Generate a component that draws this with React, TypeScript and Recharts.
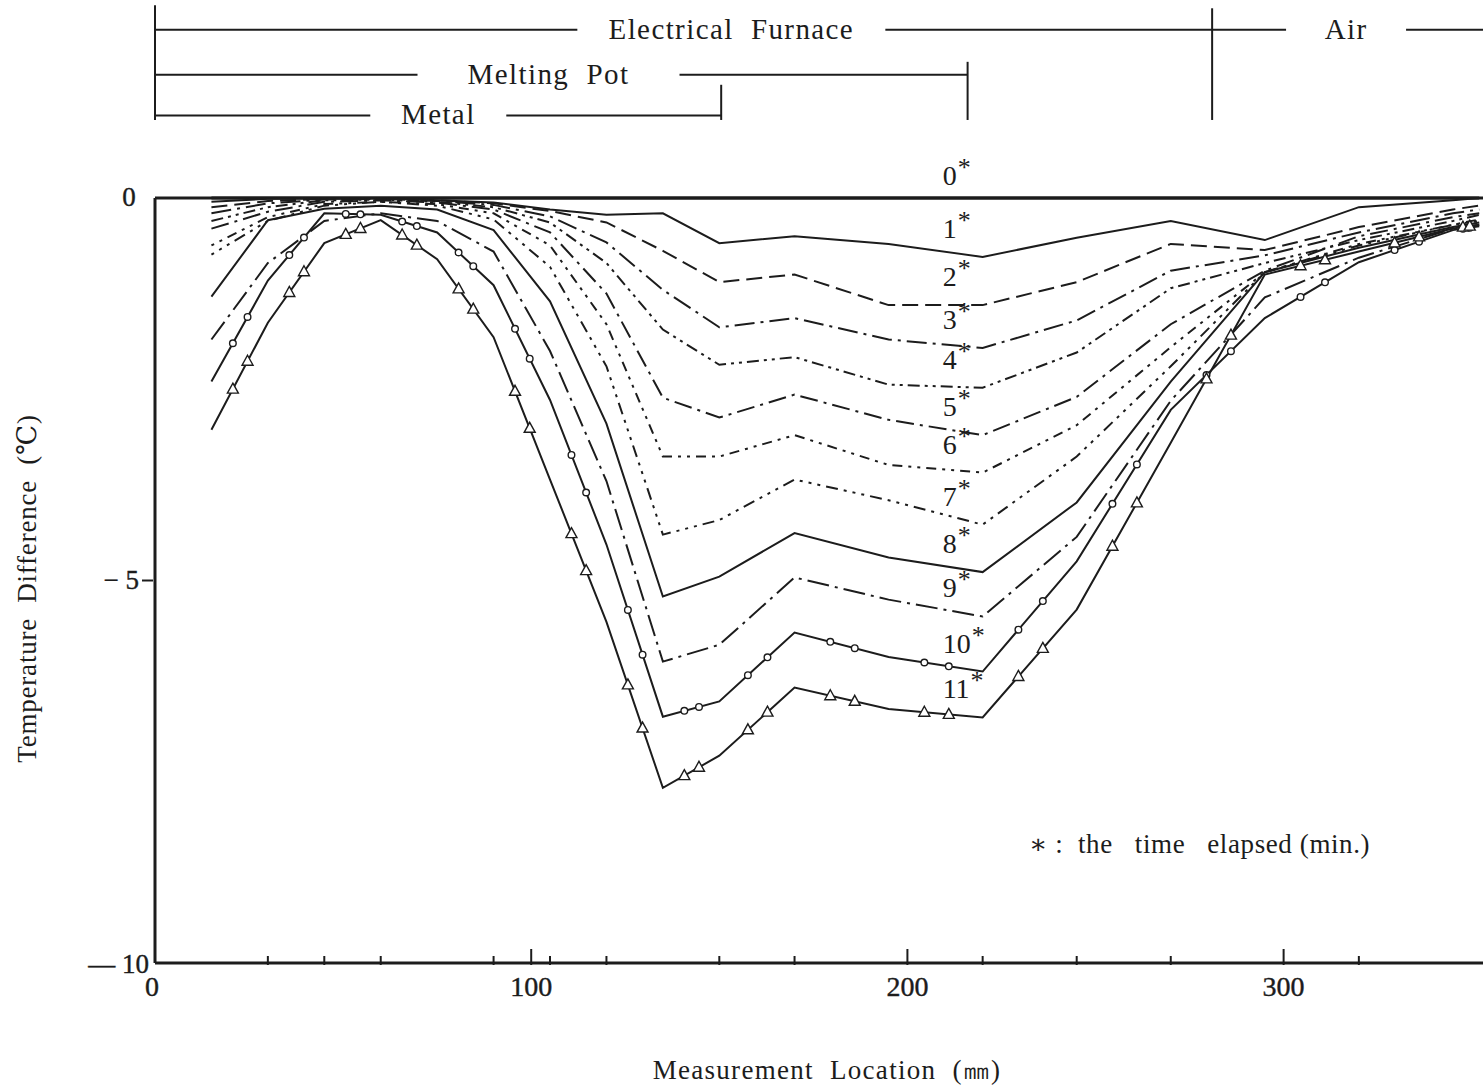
import React from 'react'
import { LineChart, Line, XAxis, YAxis, ReferenceLine, ReferenceDot } from 'recharts'

// measurement locations (mm)
const LOCATIONS = [15, 30, 45, 60, 75, 90, 105, 120, 135, 150, 170, 195, 220, 245, 270, 295, 320, 345, 352]

// temperature difference (deg C) after n minutes
const T0 = [0, 0, 0, 0, 0, 0, 0, 0, 0, 0, 0, 0, 0, 0, 0, 0, 0, 0, 0]
const T1 = [-0.05, -0.01, 0, 0, -0.03, -0.06, -0.15, -0.22, -0.2, -0.59, -0.5, -0.6, -0.77, -0.52, -0.3, -0.55, -0.12, -0.03, 0]
const T2 = [-0.12, -0.04, -0.01, 0, -0.03, -0.07, -0.17, -0.32, -0.69, -1.1, -1.0, -1.4, -1.4, -1.1, -0.6, -0.68, -0.38, -0.15, -0.1]
const T3 = [-0.2, -0.07, -0.02, -0.01, -0.04, -0.09, -0.24, -0.58, -1.2, -1.69, -1.57, -1.85, -1.96, -1.6, -0.95, -0.75, -0.45, -0.2, -0.15]
const T4 = [-0.3, -0.12, -0.03, -0.02, -0.05, -0.12, -0.32, -0.85, -1.72, -2.18, -2.08, -2.44, -2.48, -2.02, -1.18, -0.85, -0.55, -0.3, -0.22]
const T5 = [-0.4, -0.18, -0.05, -0.03, -0.06, -0.15, -0.45, -1.25, -2.61, -2.87, -2.57, -2.9, -3.1, -2.6, -1.65, -0.95, -0.5, -0.25, -0.2]
const T6 = [-0.62, -0.25, -0.08, -0.05, -0.08, -0.2, -0.62, -1.65, -3.38, -3.38, -3.1, -3.49, -3.59, -2.97, -1.95, -0.97, -0.6, -0.35, -0.28]
const T7 = [-0.74, -0.3, -0.1, -0.05, -0.1, -0.28, -0.9, -2.2, -4.4, -4.21, -3.68, -3.95, -4.27, -3.38, -2.2, -0.97, -0.62, -0.35, -0.3]
const T8 = [-1.29, -0.29, -0.14, -0.1, -0.15, -0.42, -1.35, -2.95, -5.21, -4.95, -4.38, -4.7, -4.89, -3.98, -2.4, -0.97, -0.65, -0.38, -0.32]
const T9 = [-1.85, -0.85, -0.3, -0.2, -0.3, -0.7, -2.0, -3.7, -6.06, -5.84, -4.96, -5.25, -5.47, -4.43, -2.65, -1.3, -0.78, -0.4, -0.35]
const T10 = [-2.4, -1.08, -0.2, -0.22, -0.45, -1.14, -2.64, -4.53, -6.78, -6.58, -5.68, -6.0, -6.19, -4.75, -2.77, -1.57, -0.84, -0.42, -0.37]
const T11 = [-3.03, -1.63, -0.59, -0.29, -0.8, -1.82, -3.68, -5.54, -7.71, -7.29, -6.4, -6.68, -6.79, -5.38, -3.2, -1.0, -0.7, -0.4, -0.35]

const SERIES = [T0, T1, T2, T3, T4, T5, T6, T7, T8, T9, T10, T11]
const SERIES_NAMES = ['0', '1', '2', '3', '4', '5', '6', '7', '8', '9', '10', '11']

const X_TICKS = [0, 30, 45, 60, 90, 100, 105, 120, 150, 170, 200, 220, 245, 270, 300, 320]
const X_LABELS = [0, 100, 200, 300]
const Y_TICKS = [0, -5, -10]

// zones of the apparatus (mm)
const METAL_END = 150.5
const POT_END = 216
const FURNACE_END = 281

// ---- styles / layout ----
const FONT = "'Liberation Serif', 'DejaVu Serif', serif"
const INK = '#1c1c1c'
const DASHES = [
  undefined, undefined, '16 7', '20 6 3 6', '12 5 3 5 3 5', '18 6 3 6',
  '3 6 3 6 10 6', '3 6 3 6 3 6 12 6', undefined, '22 6 3 6', undefined, undefined,
]
const MARKERS = ['none', 'none', 'none', 'none', 'none', 'none', 'none', 'none', 'none', 'none', 'circle', 'triangle']
const LABEL_INDEX = LOCATIONS.indexOf(220)
const MARK_AT = [0.38, 0.64]

const rows = LOCATIONS.map((x, i) => {
  const r: Record<string, number> = { x }
  SERIES.forEach((s, k) => { r['t' + k] = s[i] })
  return r
})

const prevPoint: Record<string, { x: number; y: number } | null> = {}

function makeDot(k: number) {
  const key = 't' + k
  const marker = MARKERS[k]
  return (props: any) => {
    const { cx, cy, index } = props
    if (index === 0) prevPoint[key] = null
    const prev = props.points && index > 0 ? props.points[index - 1] : prevPoint[key]
    prevPoint[key] = { x: cx, y: cy }
    const parts: React.ReactNode[] = []
    if (marker !== 'none' && prev) {
      MARK_AT.forEach((f, j) => {
        const mx = prev.x + (cx - prev.x) * f
        const my = prev.y + (cy - prev.y) * f
        if (marker === 'circle') {
          parts.push(<circle key={'m' + j} cx={mx} cy={my} r={3.3} fill="#fff" stroke={INK} strokeWidth={1.4} />)
        } else {
          parts.push(
            <path key={'m' + j} d={`M${mx},${my - 6} L${mx + 5.5},${my + 4} L${mx - 5.5},${my + 4} Z`}
              fill="#fff" stroke={INK} strokeWidth={1.4} />
          )
        }
      })
    }
    if (index === LABEL_INDEX) {
      const ly = k === 0 ? cy - 13 : cy - 19
      parts.push(
        <text key="lab" x={cx - 40} y={ly} textAnchor="start" fontFamily={FONT} fontSize={28} fill={INK}>
          {SERIES_NAMES[k]}
          <tspan fontSize={26} dy={-9} dx={1}>*</tspan>
        </text>
      )
    }
    return <g key={`dot-${key}-${index}`}>{parts}</g>
  }
}

const XTick = (props: any) => {
  const { x, y, payload } = props
  const v = payload.value
  const major = X_LABELS.includes(v)
  return (
    <g>
      {v !== 0 && <line x1={x} x2={x} y1={y} y2={y - (major ? 16 : 9)} stroke={INK} strokeWidth={2} />}
      {major && (
        <text x={v === 0 ? x - 3 : x} y={y + 31} textAnchor="middle" fontFamily={FONT} fontSize={28}
          fill={INK} stroke={INK} strokeWidth={0.4}>
          {v}
        </text>
      )}
    </g>
  )
}

const YTick = (props: any) => {
  const { x, y, payload } = props
  const v = payload.value
  const text = v === 0 ? '0' : v === -5 ? '\u2212 5' : '\u2014 10'
  return (
    <g>
      {v === -5 && <line x1={x - 11} x2={x} y1={y} y2={y} stroke={INK} strokeWidth={2} />}
      <text x={v === 0 ? x - 24 : v === -5 ? x - 14 : x - 4} y={y + (v === -10 ? 10 : 8)}
        textAnchor={v === 0 ? 'middle' : 'end'} fontFamily={FONT} fontSize={27} fill={INK}
        stroke={INK} strokeWidth={0.4}>
        {text}
      </text>
    </g>
  )
}

const YLabel = (props: any) => {
  const vb = props.viewBox
  const cx = vb.x + 30
  const cy = vb.y + vb.height / 2 + 8
  return (
    <text x={cx} y={cy} transform={`rotate(-90 ${cx} ${cy})`} textAnchor="middle" dominantBaseline="middle"
      fontFamily={FONT} fontSize={27} fill={INK} style={{ whiteSpace: 'pre', letterSpacing: 0.8 }}>
      {'Temperature  Difference  (\u2103)'}
    </text>
  )
}

const XLabel = (props: any) => {
  const vb = props.viewBox
  return (
    <text x={vb.x + vb.width / 2 + 8} y={vb.y + vb.height - 8} textAnchor="middle" fontFamily={FONT}
      fontSize={27} fill={INK} style={{ whiteSpace: 'pre', letterSpacing: 1.3 }}>
      {'Measurement  Location  (\u339c)'}
    </text>
  )
}

// header bracket rows: level in chart units above the plot, label centre (mm), white gap (px)
const HEADER = [
  { label: 'Electrical  Furnace', level: 2.2, from: 0, to: 353, at: 153.2, gap: 308 },
  { label: 'Air', level: 2.2, from: FURNACE_END, to: 353, at: 316.6, gap: 120 },
  { label: 'Melting  Pot', level: 1.61, from: 0, to: POT_END, at: 104.6, gap: 262 },
  { label: 'Metal', level: 1.08, from: 0, to: METAL_END, at: 75.3, gap: 136 },
]
const BRACKETS = [
  { x: 0, top: 2.52 },
  { x: METAL_END, top: 1.48 },
  { x: POT_END, top: 1.78 },
  { x: FURNACE_END, top: 2.48 },
]
const BRACKET_BOTTOM = 1.02

const headerText = (label: string, gap: number) => (p: any) => (
  <g>
    <rect x={p.cx - gap / 2} y={p.cy - 16} width={gap} height={32} fill="#fff" />
    <text x={p.cx} y={p.cy + 9} textAnchor="middle" fontFamily={FONT} fontSize={29} fill={INK}
      style={{ whiteSpace: 'pre', letterSpacing: 1.4 }}>
      {label}
    </text>
  </g>
)

const noteText = (p: any) => (
  <text x={p.cx} y={p.cy + 9} textAnchor="start" fontFamily={FONT} fontSize={27} fill={INK}
    style={{ whiteSpace: 'pre', letterSpacing: 0.6 }}>
    {'\u2217 :  the   time   elapsed (min.)'}
  </text>
)

export default function App() {
  return (
    <div style={{ position: 'absolute', left: 0, top: 0, width: 1483, height: 1087, background: '#fff' }}>
      <LineChart width={1483} height={1087} data={rows} margin={{ top: 198, right: 0, bottom: 0, left: 0 }}
        style={{ overflow: 'visible' }}>
        <XAxis type="number" dataKey="x" domain={[0, 353]} ticks={X_TICKS} interval={0} height={124}
          tickSize={0} tickLine={false} axisLine={{ stroke: INK, strokeWidth: 3 }} tick={<XTick />}
          label={<XLabel />} />
        <YAxis type="number" domain={[-10, 0]} ticks={Y_TICKS} interval={0} width={155}
          tickSize={0} tickLine={false} axisLine={{ stroke: INK, strokeWidth: 3 }} tick={<YTick />}
          label={<YLabel />} />
        <ReferenceLine y={0} stroke={INK} strokeWidth={3} />

        {HEADER.filter(h => h.label !== 'Air').map(h => (
          <ReferenceLine key={'hl' + h.label} ifOverflow="visible" stroke={INK} strokeWidth={2}
            segment={[{ x: h.from, y: h.level }, { x: h.to, y: h.level }]} />
        ))}
        {BRACKETS.map(b => (
          <ReferenceLine key={'br' + b.x} ifOverflow="visible" stroke={INK} strokeWidth={2}
            segment={[{ x: b.x, y: b.top }, { x: b.x, y: BRACKET_BOTTOM }]} />
        ))}
        {HEADER.map(h => (
          <ReferenceDot key={'ht' + h.label} x={h.at} y={h.level} r={1} ifOverflow="visible"
            shape={headerText(h.label, h.gap)} />
        ))}
        <ReferenceDot x={232.3} y={-8.45} r={1} ifOverflow="visible" shape={noteText} />

        {SERIES.map((_, k) => (
          <Line key={k} type="linear" dataKey={'t' + k} stroke={INK} strokeWidth={k === 0 ? 3 : 2}
            strokeDasharray={DASHES[k]} dot={makeDot(k)} activeDot={false} isAnimationActive={false} />
        ))}
      </LineChart>
    </div>
  )
}
